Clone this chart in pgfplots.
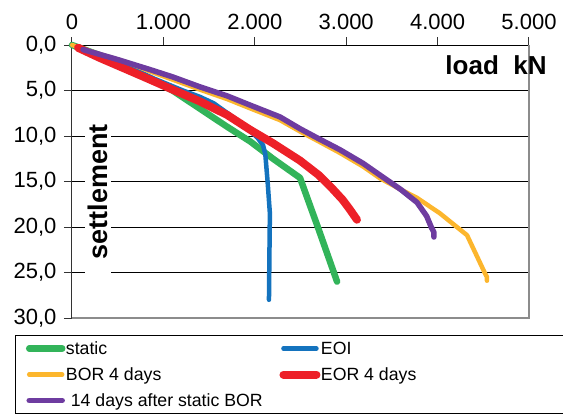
\documentclass[border=0pt]{standalone}
\usepackage{fontspec}
\setmainfont{Liberation Sans}
\usepackage{pgfplots}
\pgfplotsset{compat=1.18}
\definecolor{cgreen}{RGB}{50,180,90}
\definecolor{cblue}{RGB}{20,115,190}
\definecolor{cyellow}{RGB}{252,182,45}
\definecolor{cred}{RGB}{237,32,40}
\definecolor{cpurple}{RGB}{110,60,160}
\newcommand{\lstrut}{\rule[-4pt]{0pt}{20pt}}
\begin{document}
\begin{tikzpicture}[x=1pt,y=1pt]
\useasboundingbox (0,0) rectangle (563,416);
\begin{axis}[
  at={(72pt,98pt)}, anchor=south west,
  scale only axis, width=457pt, height=273pt,
  xmin=0, xmax=5000, ymin=0, ymax=30, y dir=reverse,
  axis x line*=top, axis y line*=left,
  axis line style={-},
  x axis line style={black, line width=1pt},
  y axis line style={black!80, line width=1pt},
  xtick={0,1000,...,5000}, ytick={0,5,...,30},
  tick align=outside, major tick length=8pt,
  major tick style={black!80, line width=1pt},
  ymajorgrids, major grid style={black, line width=0.8pt},
  /pgf/number format/assume math mode=true,
  scaled x ticks=false,
  tick label style={font=\fontsize{22}{26}\selectfont},
  xticklabel style={/pgf/number format/.cd, fixed, precision=0, 1000 sep={.}, assume math mode=true},
  yticklabel style={/pgf/number format/.cd, fixed, fixed zerofill, precision=1, use comma, assume math mode=true},
  xticklabel shift=4pt, yticklabel shift=4pt,
  xlabel={load\ \ kN},
  xlabel style={at={(axis cs:4639,2.2)}, anchor=center, font=\fontsize{26}{30}\selectfont\bfseries},
  ylabel={settlement},
  ylabel style={at={(axis cs:284,16.15)}, anchor=center, font=\fontsize{27}{31}\selectfont\bfseries, fill=white, inner xsep=20pt, inner ysep=3pt},
  clip=false,
  legend columns=2,
  legend cell align=left,
  legend style={at={(axis cs:-624,31.87)}, anchor=north west, draw=black, line width=1pt,
    font=\fontsize{17.7}{21.2}\selectfont,
    inner xsep=7pt, inner ysep=2.5pt, row sep=5pt, column sep=0pt,
    nodes={inner sep=0.5pt, text depth=4pt}},
  legend image code/.code={\path (0pt,0pt) (34pt,0pt); \draw[#1, line cap=round] (3.5pt,0pt) -- (36.5pt,0pt);},
]
\draw[black!45, line width=2pt] (axis cs:5000,0) -- (axis cs:5000,30) -- (axis cs:0,30);

\addplot[cgreen, line width=6.5pt, line join=round, line cap=round] coordinates {
(0,0) (300,1.1) (600,2.4) (853,3.7) (1100,5.0) (1400,7.0) (1700,9.0) (1950,10.6) (2200,12.5) (2495,14.6) (2700,20.3) (2900,26.0)
};
\addlegendentry{\makebox[209.5pt][l]{static\lstrut}}
\addplot[cblue, line width=4.5pt, line join=round, line cap=round] coordinates {
(0,0) (300,1.1) (600,2.3) (900,3.7) (1214,5.0) (1400,5.7) (1550,6.4) (1760,7.9) (1900,9.0) (2030,10.2) (2090,11.0) (2115,12.0) (2140,15.0) (2165,18.5) (2160,23.0) (2155,28.0)
};
\addlegendentry{\makebox[250pt][l]{EOI\lstrut}}
\addplot[cyellow, line width=4.5pt, line join=round, line cap=round] coordinates {
(0,0) (300,1.0) (600,1.9) (853,2.9) (1100,3.8) (1400,4.9) (1700,5.95) (1947,6.95) (2275,8.25) (2495,9.5) (2700,10.6) (2930,11.85) (3184,13.35) (3370,14.65) (3600,15.9) (3775,16.8) (4026,18.5) (4322,20.9) (4519,25.1) (4540,25.5) (4540,25.9)
};
\addlegendentry{\makebox[209.5pt][l]{BOR 4 days\lstrut}}
\addplot[cred, line width=8pt, line join=round, line cap=round] coordinates {
(66,0.3) (300,1.4) (600,2.7) (853,3.8) (1100,4.9) (1400,6.2) (1700,7.7) (1947,9.3) (2200,10.8) (2495,12.7) (2700,14.3) (2850,15.8) (2960,17.0) (3042,18.1) (3118,19.2)
};
\addlegendentry{\makebox[250pt][l]{EOR 4 days\lstrut}}
\addplot[cpurple, line width=5.5pt, line join=round, line cap=round] coordinates {
(120,0.5) (500,1.6) (853,2.7) (1100,3.5) (1400,4.6) (1700,5.6) (1947,6.6) (2275,7.9) (2495,9.2) (2700,10.3) (2930,11.5) (3184,13.0) (3370,14.3) (3600,15.9) (3775,17.3) (3880,18.8) (3930,20.0) (3960,20.6) (3960,21.1)
};
\addlegendentry{\makebox[209.5pt][l]{\ 14 days after static BOR\lstrut}}
\end{axis}
\end{tikzpicture}
\end{document}
